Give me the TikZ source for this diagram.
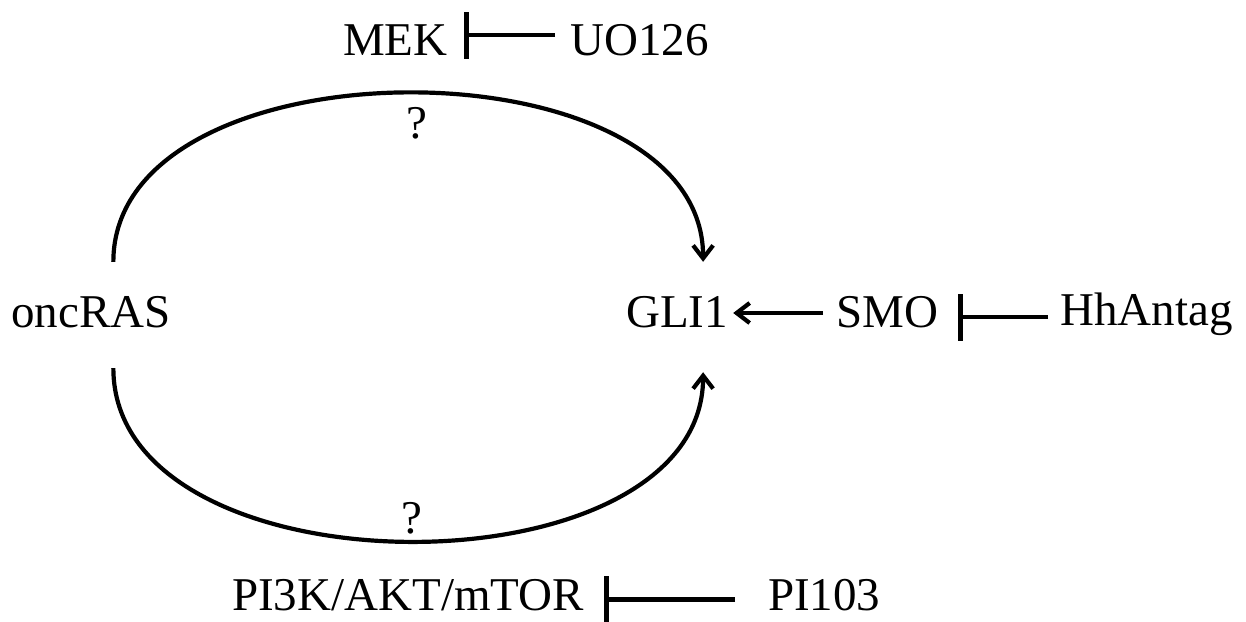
\documentclass[tikz,border=0pt]{standalone}
\usepackage{fontspec}
\setmainfont{Liberation Serif}
\usetikzlibrary{arrows.meta}
\begin{document}
\begin{tikzpicture}[x=1pt,y=-1pt,
  lbl/.style={anchor=base west, inner sep=0pt, text height=31pt, text depth=0pt,
              font=\fontsize{47}{56}\selectfont},
  qlbl/.style={anchor=base, inner sep=0pt, font=\fontsize{47}{56}\selectfont},
  arr/.style={line width=4.2pt, -{Straight Barb[length=13pt,width=20pt]}},
  inh/.style={line width=4.8pt, -{Bar[width=47pt]}}]
\useasboundingbox (0,0) rectangle (1246,621);
% nodes
\node[lbl] (MEK) at (343,55) {MEK};
\node[lbl] (UO) at (570,55) {UO126};
\node[lbl] (RAS) at (11,327) {oncRAS};
\node[lbl] (GLI) at (626,327) {GLI1};
\node[lbl] (SMO) at (836,327) {SMO};
\node[lbl] (HH) at (1060,325) {HhAntag};
\node[lbl] (PIK) at (232,610) {PI3K/AKT/mTOR};
\node[lbl] (PI) at (768,610) {PI103};
\node[qlbl] (q1) at (417,138) {?};
\node[qlbl] (q2) at (412,533) {?};
% curves
\draw[arr] ([shift={(22.5,-34)}]RAS.north) .. controls +(0,-225) and +(0,-225) .. ([shift={(26,-34)}]GLI.north);
\draw[arr] ([shift={(22.5,41)}]RAS.south) .. controls +(0,230) and +(0,226) .. ([shift={(26,45)}]GLI.south);
% straight connectors
\draw[arr] ([shift={(-13,1.5)}]SMO.west) -- ([shift={(5,1.5)}]GLI.east);
\draw[inh] ([shift={(-12,7.5)}]HH.west) -- ([shift={(20,5.5)}]SMO.east);
\draw[inh] ([shift={(-15,-4.5)}]UO.west) -- ([shift={(16.6,-4.5)}]MEK.east);
\draw[inh] ([shift={(-33,5)}]PI.west) -- ([shift={(20,5)}]PIK.east);
\end{tikzpicture}
\end{document}
